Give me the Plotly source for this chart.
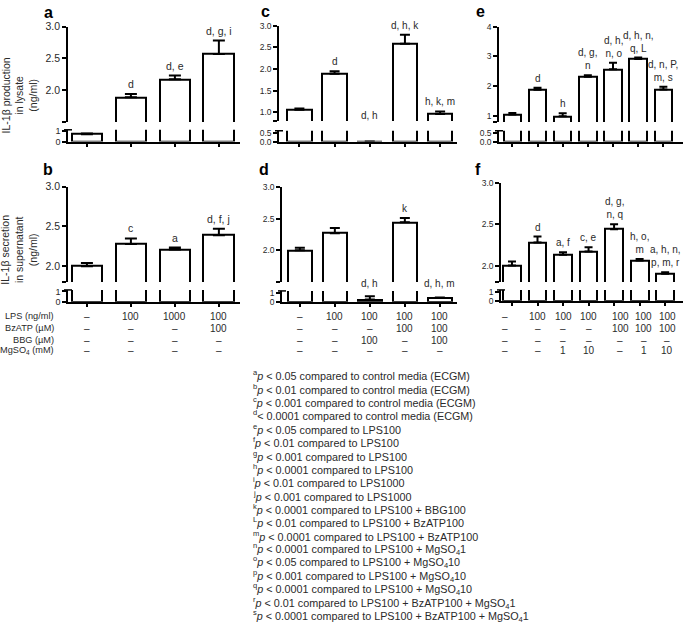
import plotly.graph_objects as go

W, H = 685, 628

# ---------------- data ----------------
a_vals = [0.72, 1.89, 2.17, 2.57]
a_err = [0.06, 0.05, 0.06, 0.21]
a_lab = ["", "d", "d, e", "d, g, i"]

c_vals = [1.06, 1.89, 0.0, 2.58, 0.96]
c_err = [0.03, 0.06, 0.0, 0.21, 0.06]
c_lab = ["", "d", "d, h", "d, h, k", "h, k, m"]

e_vals = [1.05, 1.88, 0.99, 2.32, 2.57, 2.91, 1.89]
e_err = [0.05, 0.07, 0.10, 0.05, 0.22, 0.05, 0.09]
e_lab = ["", "d", "h", "d, g,<br>n", "d, h,<br>n, o", "d, h, n,<br>q, L", "d, n, P,<br>m, s"]

b_vals = [2.00, 2.28, 2.21, 2.39]
b_err = [0.04, 0.07, 0.025, 0.08]
b_lab = ["", "c", "a", "d, f, j"]

d_vals = [2.00, 2.27, 0.25, 2.44, 0.42]
d_err = [0.04, 0.08, 0.35, 0.07, 0.06]
d_lab = ["", "", "d, h", "k", "d, h, m"]

f_vals = [2.00, 2.28, 2.13, 2.17, 2.44, 2.06, 1.90]
f_err = [0.05, 0.07, 0.03, 0.05, 0.06, 0.02, 0.02]
f_lab = ["", "d", "a, f", "c, e", "d, g,<br>n, q", "h, o,<br>m", "a, h, n,<br>p, m, r"]

row_labels = ["LPS (ng/ml)", "BzATP (\u00b5M)", "BBG (\u00b5M)", "MgSO<sub>4</sub> (mM)"]
tab_ab = [["\u2013", "100", "1000", "100"],
          ["\u2013", "\u2013", "\u2013", "100"],
          ["\u2013", "\u2013", "\u2013", "\u2013"],
          ["\u2013", "\u2013", "\u2013", "\u2013"]]
tab_cd = [["\u2013", "100", "100", "100", "100"],
          ["\u2013", "\u2013", "\u2013", "100", "100"],
          ["\u2013", "\u2013", "100", "\u2013", "100"],
          ["\u2013", "\u2013", "\u2013", "\u2013", "\u2013"]]
tab_ef = [["\u2013", "100", "100", "100", "100", "100", "100"],
          ["\u2013", "\u2013", "\u2013", "\u2013", "100", "100", "100"],
          ["\u2013", "\u2013", "\u2013", "\u2013", "\u2013", "\u2013", "\u2013"],
          ["\u2013", "\u2013", "1", "10", "\u2013", "1", "10"]]

footnotes = [
    ("a", "<i>p</i> &lt; 0.05 compared to control media (ECGM)"),
    ("b", "<i>p</i> &lt; 0.01 compared to control media (ECGM)"),
    ("c", "<i>p</i> &lt; 0.001 compared to control media (ECGM)"),
    ("d", "&lt; 0.0001 compared to control media (ECGM)"),
    ("e", "<i>p</i> &lt; 0.05 compared to LPS100"),
    ("f", "<i>p</i> &lt; 0.01 compared to LPS100"),
    ("g", "<i>p</i> &lt; 0.001 compared to LPS100"),
    ("h", "<i>p</i> &lt; 0.0001 compared to LPS100"),
    ("i", "<i>p</i> &lt; 0.01 compared to LPS1000"),
    ("j", "<i>p</i> &lt; 0.001 compared to LPS1000"),
    ("k", "<i>p</i> &lt; 0.0001 compared to LPS100 + BBG100"),
    ("L", "<i>p</i> &lt; 0.01 compared to LPS100 + BzATP100"),
    ("m", "<i>p</i> &lt; 0.0001 compared to LPS100 + BzATP100"),
    ("n", "<i>p</i> &lt; 0.0001 compared to LPS100 + MgSO<sub>4</sub>1"),
    ("o", "<i>p</i> &lt; 0.05 compared to LPS100 + MgSO<sub>4</sub>10"),
    ("p", "<i>p</i> &lt; 0.001 compared to LPS100 + MgSO<sub>4</sub>10"),
    ("q", "<i>p</i> &lt; 0.0001 compared to LPS100 + MgSO<sub>4</sub>10"),
    ("r", "<i>p</i> &lt; 0.01 compared to LPS100 + BzATP100 + MgSO<sub>4</sub>1"),
    ("s", "<i>p</i> &lt; 0.0001 compared to LPS100 + BzATP100 + MgSO<sub>4</sub>1"),
]

# ---------------- layout helpers ----------------
FONT = "Liberation Sans, Arial, sans-serif"
TXT = "#2a2a2a"


def xp(px):
    return px / W


def yp(py):
    return 1 - py / H


panels = [
    dict(name="a", vals=a_vals, err=a_err, lab=a_lab, xpx=(68, 240), xr=(-0.43, 3.48),
         upx=(21, 118), ur=(1.5, 3.0), ut=([1.5, 2.0, 2.5, 3.0], ["", "2.0", "2.5", "3.0"]),
         lpx=(126, 138), lr=(0, 1.15), lt=([0, 1], ["0", "1"]), tf=10.5, ltf=9, lf=10.5, ls=8,
         let=(48, 7), cap=6),
    dict(name="c", vals=c_vals, err=c_err, lab=c_lab, xpx=(279, 457), xr=(-0.58, 4.48),
         upx=(20, 117), ur=(0.8, 3.0), ut=([0.8, 1.0, 1.5, 2.0, 2.5, 3.0], ["", "1.0", "1.5", "2.0", "2.5", "3.0"]),
         lpx=(127, 138), lr=(0, 0.62), lt=([0, 0.5], ["0.0", "0.5"]), tf=8.5, ltf=8.5, lf=10, ls=8,
         let=(265, 6), cap=5),
    dict(name="e", vals=e_vals, err=e_err, lab=e_lab, xpx=(499, 683), xr=(-0.53, 6.78),
         upx=(21, 118), ur=(0.8, 4.0), ut=([0.8, 1, 2, 3, 4], ["", "1", "2", "3", "4"]),
         lpx=(127, 138), lr=(0, 0.62), lt=([0, 0.5], ["0.0", "0.5"]), tf=8.5, ltf=8.5, lf=10, ls=8,
         let=(480, 6), cap=4),
    dict(name="b", vals=b_vals, err=b_err, lab=b_lab, xpx=(68, 240), xr=(-0.43, 3.48),
         upx=(184, 281), ur=(1.8, 3.0), ut=([1.8, 2.0, 2.5, 3.0], ["", "2.0", "2.5", "3.0"]),
         lpx=(289, 301), lr=(0, 1.15), lt=([0, 1], ["0", "1"]), tf=10.5, ltf=9, lf=10.5, ls=0,
         let=(48, 166), cap=6),
    dict(name="d", vals=d_vals, err=d_err, lab=d_lab, xpx=(282, 457), xr=(-0.51, 4.49),
         upx=(184, 281), ur=(1.5, 3.0), ut=([1.5, 2.0, 2.5, 3.0], ["", "2.0", "2.5", "3.0"]),
         lpx=(290, 301), lr=(0, 1.2), lt=([0, 1], ["0", "1"]), tf=8.5, ltf=8.5, lf=10, ls=0,
         let=(264, 166), cap=5),
    dict(name="f", vals=f_vals, err=f_err, lab=f_lab, xpx=(501, 683), xr=(-0.43, 6.7),
         upx=(180, 281), ur=(1.8, 3.0), ut=([1.8, 2.0, 2.5, 3.0], ["", "2.0", "2.5", "3.0"]),
         lpx=(289, 300), lr=(0, 1.2), lt=([0, 1], ["0", "1"]), tf=8.5, ltf=8.5, lf=10, ls=0,
         let=(478, 166), cap=4),
]

fig = go.Figure()
layout = dict(width=W, height=H, margin=dict(l=0, r=0, t=0, b=0),
              paper_bgcolor="white", plot_bgcolor="white", showlegend=False,
              font=dict(family=FONT, color=TXT), bargap=0)
annotations = []
shapes = []

for k, p in enumerate(panels):
    u, l = 2 * k + 1, 2 * k + 2
    su = "" if u == 1 else str(u)
    sl = str(l)
    xdom = [xp(p["xpx"][0]), xp(p["xpx"][1])]
    n = len(p["vals"])
    xs = list(range(n))
    axis_common = dict(showgrid=False, zeroline=False, showline=True, linecolor="black",
                       linewidth=1.5, ticks="outside", ticklen=4, tickwidth=1.5, tickcolor="black")
    layout["xaxis" + su] = dict(domain=xdom, range=list(p["xr"]), visible=False,
                                anchor="y" + su, fixedrange=True)
    layout["yaxis" + su] = dict(domain=[yp(p["upx"][1]), yp(p["upx"][0])], range=list(p["ur"]),
                                anchor="x" + su, tickmode="array", tickvals=p["ut"][0],
                                ticktext=p["ut"][1], tickfont=dict(size=p["tf"], color=TXT),
                                **axis_common)
    layout["xaxis" + sl] = dict(domain=xdom, range=list(p["xr"]), anchor="y" + sl,
                                tickmode="array", tickvals=xs, showticklabels=False, **axis_common)
    layout["yaxis" + sl] = dict(domain=[yp(p["lpx"][1]), yp(p["lpx"][0])], range=list(p["lr"]),
                                anchor="x" + sl, tickmode="array", tickvals=p["lt"][0],
                                ticktext=p["lt"][1], tickfont=dict(size=p["ltf"], color=TXT),
                                **axis_common)
    for sx, sy in (("x" + su, "y" + su), ("x" + sl, "y" + sl)):
        fig.add_trace(go.Bar(
            x=xs, y=p["vals"], xaxis=sx, yaxis=sy, width=0.7,
            marker=dict(color="white", line=dict(color="black", width=2)),
            error_y=dict(type="data", symmetric=False, array=p["err"],
                         arrayminus=[0] * n, color="black", thickness=2, width=p["cap"]),
            hoverinfo="skip"))
    shapes.append(dict(type="line", xref="x" + sl + " domain", yref="y" + sl + " domain",
                       xsizemode="pixel", xanchor=0, x0=-4, x1=4, y0=1, y1=1,
                       line=dict(color="black", width=1.5)))
    for i, t in enumerate(p["lab"]):
        if not t:
            continue
        top = p["vals"][i] + p["err"][i]
        if top >= p["ur"][0]:
            annotations.append(dict(x=i, y=top, xref="x" + su, yref="y" + su, text=t,
                                    showarrow=False, yanchor="bottom", yshift=2,
                                    font=dict(size=p["lf"], color=TXT)))
        else:
            annotations.append(dict(x=i, y=1, xref="x" + sl, yref="y" + sl + " domain", text=t,
                                    showarrow=False, yanchor="bottom", yshift=p["ls"],
                                    font=dict(size=p["lf"], color=TXT)))
    annotations.append(dict(x=xp(p["let"][0]), y=yp(p["let"][1]), xref="paper", yref="paper",
                            text="<b>%s</b>" % p["name"], showarrow=False,
                            font=dict(size=16, color="black"), xanchor="center", yanchor="middle"))

annotations.append(dict(x=xp(19), y=yp(91), xref="paper", yref="paper", textangle=-90,
                        text="IL-1\u03b2 production<br>in lysate<br>(ng/ml)", showarrow=False,
                        font=dict(size=10.5, color=TXT), xanchor="center", yanchor="middle"))
annotations.append(dict(x=xp(19), y=yp(248), xref="paper", yref="paper", textangle=-90,
                        text="IL-1\u03b2 secretion<br>in supernatant<br>(ng/ml)", showarrow=False,
                        font=dict(size=10.5, color=TXT), xanchor="center", yanchor="middle"))

row_y = [316, 328, 340, 351]
for r, lab in enumerate(row_labels):
    annotations.append(dict(x=xp(56), y=yp(row_y[r]), xref="paper", yref="paper", text=lab,
                            showarrow=False, xanchor="right", yanchor="middle",
                            font=dict(size=9.2, color=TXT)))
ef_shift = [-7, 0, 0, 0, 6, 4, 2]
for tab, axn, shifts in ((tab_ab, "x8", None), (tab_cd, "x10", None), (tab_ef, "x12", ef_shift)):
    for r, row in enumerate(tab):
        for i, v in enumerate(row):
            annotations.append(dict(x=i, y=yp(row_y[r]), xref=axn, yref="paper", text=v,
                                    showarrow=False, xanchor="center", yanchor="middle",
                                    xshift=(shifts[i] if shifts else 0),
                                    font=dict(size=10, color=TXT)))

for j, (sup, txt) in enumerate(footnotes):
    annotations.append(dict(x=xp(251), y=yp(376 + j * 13.6), xref="paper", yref="paper",
                            text="<sup>%s</sup>%s" % (sup, txt), showarrow=False,
                            xanchor="left", yanchor="middle", font=dict(size=10.8, color=TXT)))

layout["annotations"] = annotations
layout["shapes"] = shapes
fig.update_layout(**layout)
fig.write_html("out.html", config={"displayModeBar": False},
               post_script="document.body.style.margin='0';document.body.style.overflow='hidden';")
